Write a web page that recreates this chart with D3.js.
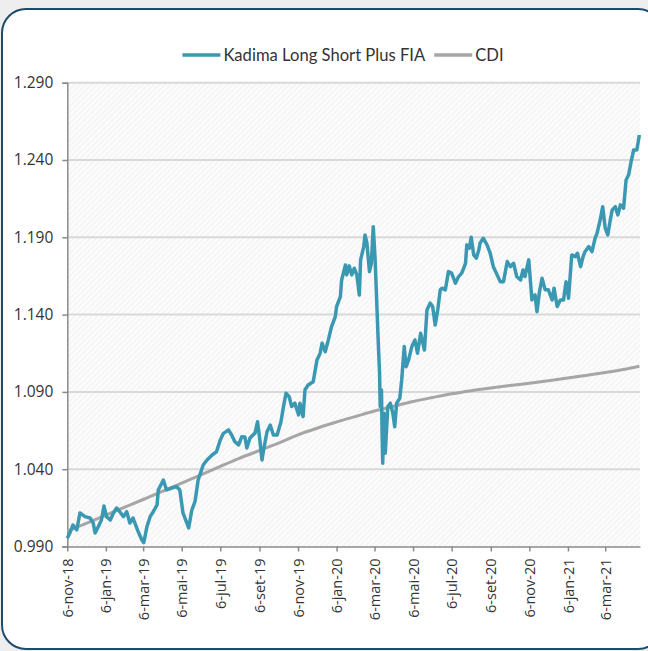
<!DOCTYPE html>
<html><head><meta charset="utf-8">
<script src="https://cdn.jsdelivr.net/npm/d3@7"></script>
<style>html,body{margin:0;padding:0;background:#eeeeee;} svg{display:block}</style>
</head><body>
<svg id="chart" width="648" height="651"></svg>
<script>
const seriesNames = ["Kadima Long Short Plus FIA", "CDI"];
const seriesColors = ["#3b98b2", "#a6a6a6"];

const kadimaDates = ["2018-11-06","2018-11-10","2018-11-15","2018-11-21","2018-11-26","2018-12-04","2018-12-12","2018-12-17","2018-12-20","2018-12-25","2018-12-30",
"2019-01-03","2019-01-07","2019-01-13","2019-01-18","2019-01-23","2019-01-28","2019-02-03","2019-02-08","2019-02-13","2019-02-18","2019-02-25",
"2019-03-04","2019-03-07","2019-03-12","2019-03-17","2019-03-22","2019-03-28","2019-03-30","2019-04-07","2019-04-12","2019-04-20","2019-04-28",
"2019-05-03","2019-05-08","2019-05-17","2019-05-22","2019-05-27","2019-06-01","2019-06-09","2019-06-15","2019-06-23","2019-06-30",
"2019-07-06","2019-07-11","2019-07-19","2019-07-24","2019-07-29","2019-08-04","2019-08-09","2019-08-14","2019-08-17","2019-08-22","2019-08-30",
"2019-09-03","2019-09-06","2019-09-10","2019-09-13","2019-09-18","2019-09-23","2019-09-28","2019-10-04","2019-10-10","2019-10-14","2019-10-18",
"2019-10-23","2019-10-27","2019-11-01","2019-11-07","2019-11-09","2019-11-14","2019-11-17","2019-11-22","2019-11-30","2019-12-06","2019-12-11",
"2019-12-14","2019-12-19","2019-12-24","2019-12-29","2020-01-04","2020-01-06","2020-01-12","2020-01-14","2020-01-20","2020-01-22","2020-01-26",
"2020-01-30","2020-02-03","2020-02-07","2020-02-11","2020-02-13","2020-02-18","2020-02-20","2020-02-23","2020-02-27","2020-03-01","2020-03-04",
"2020-03-07","2020-03-10","2020-03-12","2020-03-14","2020-03-15","2020-03-17","2020-03-18","2020-03-19","2020-03-21","2020-03-23","2020-03-27",
"2020-03-31","2020-04-04","2020-04-07","2020-04-10","2020-04-15","2020-04-18","2020-04-22","2020-04-25","2020-04-29","2020-05-04","2020-05-09",
"2020-05-13","2020-05-18","2020-05-24","2020-05-28","2020-06-02","2020-06-06","2020-06-10","2020-06-14","2020-06-18","2020-06-21","2020-06-26",
"2020-07-01","2020-07-06","2020-07-12","2020-07-17","2020-07-22","2020-07-28","2020-07-30","2020-08-03","2020-08-06","2020-08-10","2020-08-14",
"2020-08-18","2020-08-20","2020-08-25","2020-08-31","2020-09-05","2020-09-10","2020-09-16","2020-09-21","2020-09-26","2020-10-02","2020-10-07",
"2020-10-12","2020-10-17","2020-10-23","2020-10-27","2020-10-30","2020-11-05","2020-11-10","2020-11-15","2020-11-18","2020-11-22","2020-11-26",
"2020-12-01","2020-12-06","2020-12-12","2020-12-15","2020-12-20","2020-12-25","2020-12-30","2021-01-03","2021-01-07","2021-01-12","2021-01-18",
"2021-01-21","2021-01-26","2021-01-30","2021-02-02","2021-02-08","2021-02-13","2021-02-18","2021-02-21","2021-02-26","2021-03-02","2021-03-06",
"2021-03-10","2021-03-14","2021-03-17","2021-03-22","2021-03-26","2021-03-30","2021-04-04","2021-04-08","2021-04-12","2021-04-16","2021-04-20",
"2021-04-25","2021-04-29"];

const kadimaValues = [0.9953,0.9987,1.0039,1.0007,1.0117,1.0093,1.0084,1.0052,0.9987,1.0028,1.0071,
1.0162,1.0093,1.0071,1.0117,1.0149,1.0125,1.0093,1.0125,1.0052,1.0084,1.0007,
0.9942,0.9925,1.0028,1.0093,1.0125,1.0169,1.0266,1.0330,1.0266,1.0278,1.0287,
1.0266,1.0117,1.0020,1.0136,1.0190,1.0330,1.0427,1.0460,1.0492,1.0513,
1.0589,1.0632,1.0654,1.0621,1.0578,1.0557,1.0610,1.0608,1.0537,1.0602,1.0634,
1.0707,1.0610,1.0460,1.0535,1.0643,1.0686,1.0621,1.0621,1.0707,1.0805,1.0891,
1.0869,1.0805,1.0827,1.0751,1.0827,1.0740,1.0913,1.0945,1.0966,1.1107,1.1150,
1.1215,1.1160,1.1236,1.1322,1.1387,1.1452,1.1516,1.1624,1.1721,1.1657,1.1715,
1.1657,1.1700,1.1657,1.1527,1.1754,1.1840,1.1915,1.1862,1.1678,1.1732,1.1969,
1.1754,1.1430,1.1215,1.1021,1.0805,1.0913,1.0632,1.0438,1.0762,1.0503,1.0805,
1.0827,1.0762,1.0675,1.0827,1.0859,1.0977,1.1193,1.1063,1.1107,1.1193,1.1236,
1.1150,1.1279,1.1171,1.1430,1.1474,1.1452,1.1333,1.1430,1.1560,1.1571,1.1560,
1.1678,1.1668,1.1603,1.1646,1.1668,1.1732,1.1851,1.1829,1.1901,1.1786,1.1765,
1.1818,1.1862,1.1894,1.1851,1.1797,1.1710,1.1657,1.1613,1.1613,1.1743,1.1710,
1.1732,1.1646,1.1624,1.1689,1.1646,1.1754,1.1495,1.1527,1.1419,1.1549,1.1635,
1.1560,1.1560,1.1495,1.1571,1.1452,1.1495,1.1495,1.1613,1.1506,1.1786,1.1775,
1.1797,1.1710,1.1775,1.1807,1.1840,1.1807,1.1894,1.1926,1.2012,1.2098,1.1959,
1.1915,1.2012,1.2077,1.2098,1.2045,1.2110,1.2088,1.2271,1.2304,1.2390,1.2465,
1.2465,1.2562];

const cdiDates = ["2018-11-06","2018-12-06","2019-01-06","2019-02-06","2019-03-06","2019-04-06","2019-05-06","2019-06-06","2019-07-06","2019-08-06",
"2019-09-06","2019-10-06","2019-11-06","2019-12-06","2020-01-06","2020-02-06","2020-03-06","2020-04-06","2020-05-06","2020-06-06",
"2020-07-06","2020-08-06","2020-09-06","2020-10-06","2020-11-06","2020-12-06","2021-01-06","2021-02-06","2021-03-06","2021-04-06","2021-04-29"];
const cdiValues = [1.0000,1.0050,1.0103,1.0156,1.0204,1.0258,1.0310,1.0365,1.0418,1.0472,
1.0521,1.0568,1.0622,1.0665,1.0705,1.0742,1.0776,1.0808,1.0838,1.0864,
1.0888,1.0908,1.0925,1.0941,1.0956,1.0972,1.0990,1.1008,1.1025,1.1046,1.1066];

const yTicks = [0.990, 1.040, 1.090, 1.140, 1.190, 1.240, 1.290];
const xTickDates = ["2018-11-06","2019-01-06","2019-03-06","2019-05-06","2019-07-06","2019-09-06","2019-11-06","2020-01-06","2020-03-06","2020-05-06","2020-07-06","2020-09-06","2020-11-06","2021-01-06","2021-03-06"];
const xTickLabels = ["6-nov-18","6-jan-19","6-mar-19","6-mai-19","6-jul-19","6-set-19","6-nov-19","6-jan-20","6-mar-20","6-mai-20","6-jul-20","6-set-20","6-nov-20","6-jan-21","6-mar-21"];
const xDomain = ["2018-11-06", "2021-04-30"];
const yDomain = [0.990, 1.290];

const parse = d3.timeParse("%Y-%m-%d");
const svg = d3.select("#chart");
const plot = {left: 67.3, right: 640, top: 82.7, bottom: 546.5};

// frame
svg.append("rect").attr("x", 2).attr("y", 9).attr("width", 660).attr("height", 640)
  .attr("rx", 24).attr("ry", 24).attr("fill", "#ffffff").attr("stroke", "#1d4c69").attr("stroke-width", 2);

const defs = svg.append("defs");
const pat = defs.append("pattern").attr("id", "hatch").attr("patternUnits", "userSpaceOnUse")
  .attr("width", 4).attr("height", 4).attr("patternTransform", "rotate(45)");
pat.append("rect").attr("width", 4).attr("height", 4).attr("fill", "#fbfbfb");
pat.append("line").attr("x1", 0).attr("y1", 0).attr("x2", 0).attr("y2", 4).attr("stroke", "#f0f0f0").attr("stroke-width", 1.5);

const x = d3.scaleTime().domain(xDomain.map(parse)).range([plot.left, plot.right]);
const y = d3.scaleLinear().domain(yDomain).range([plot.bottom, plot.top]);

svg.append("rect").attr("x", plot.left).attr("y", plot.top)
  .attr("width", plot.right - plot.left).attr("height", plot.bottom - plot.top).attr("fill", "url(#hatch)");

// gridlines
svg.append("g").selectAll("line").data(yTicks.filter(v => v > yDomain[0])).join("line")
  .attr("x1", plot.left).attr("x2", plot.right)
  .attr("y1", d => y(d)).attr("y2", d => y(d))
  .attr("stroke", "#d9d9d9").attr("stroke-width", 2);

// y axis
const yAxis = d3.axisLeft(y).tickValues(yTicks).tickFormat(d3.format(".3f")).tickSize(5).tickPadding(9);
const gy = svg.append("g").attr("transform", `translate(${plot.left},0)`).call(yAxis);
gy.select(".domain").attr("stroke", "#8a8a8a").attr("stroke-width", 1.5);
gy.selectAll(".tick line").attr("stroke", "#8a8a8a").attr("stroke-width", 1.5);
gy.selectAll(".tick text").attr("fill", "#333").style("font-family", "'Open Sans', sans-serif").style("font-size", "15.5px");

// x axis
const xTickParsed = xTickDates.map(parse);
const xAxis = d3.axisBottom(x).tickValues(xTickParsed)
  .tickFormat((d, i) => xTickLabels[i]).tickSize(5).tickSizeOuter(0);
const gx = svg.append("g").attr("transform", `translate(0,${plot.bottom})`).call(xAxis);
gx.select(".domain").attr("stroke", "#8a8a8a").attr("stroke-width", 1.5);
gx.selectAll(".tick line").attr("stroke", "#8a8a8a").attr("stroke-width", 1.5);
gx.selectAll(".tick text").attr("fill", "#333")
  .style("font-family", "'Open Sans', sans-serif").style("font-size", "14.5px")
  .attr("transform", "rotate(-90)").attr("text-anchor", "end")
  .attr("x", -12).attr("y", 0).attr("dy", "0.35em");

// lines
const kadima = kadimaDates.map((d, i) => ({date: parse(d), value: kadimaValues[i]}));
const cdi = cdiDates.map((d, i) => ({date: parse(d), value: cdiValues[i]}));
const line = d3.line().x(d => x(d.date)).y(d => y(d.value));
const cline = d3.line().curve(d3.curveMonotoneX).x(d => x(d.date)).y(d => y(d.value));

svg.append("path").datum(cdi).attr("d", cline).attr("fill", "none")
  .attr("stroke", seriesColors[1]).attr("stroke-width", 3).attr("stroke-linejoin", "round");
svg.append("path").datum(kadima).attr("d", line).attr("fill", "none")
  .attr("stroke", seriesColors[0]).attr("stroke-width", 3.5).attr("stroke-linejoin", "round");

// legend
const lg = svg.append("g");
const legendFont = "Lato, 'Open Sans', sans-serif";
// size the legend font so the first label spans about 202px like the reference
const probe = svg.append("text").style("font-family", legendFont).style("font-size", "20px").text(seriesNames[0]);
const legendSize = Math.min(20, 20 * 202 / probe.node().getComputedTextLength());
probe.remove();
let cx = 0;
seriesNames.forEach((name, i) => {
  const g = lg.append("g");
  g.append("line").attr("x1", cx).attr("x2", cx + 38).attr("y1", 0).attr("y2", 0)
    .attr("stroke", seriesColors[i]).attr("stroke-width", 3.5);
  const t = g.append("text").attr("x", cx + 41).attr("y", 0).attr("dy", "0.35em")
    .attr("fill", "#333").style("font-family", legendFont).style("font-size", legendSize + "px").text(name);
  cx += 41 + t.node().getComputedTextLength() + 9;
});
const totalW = cx - 9;
lg.attr("transform", `translate(${343 - totalW / 2},55)`);
</script>
</body></html>
